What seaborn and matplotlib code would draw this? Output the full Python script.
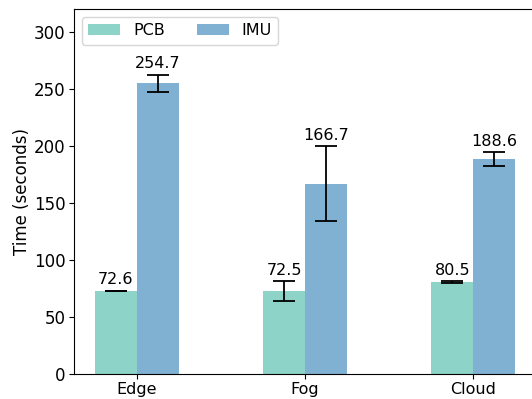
import numpy as np
import pandas as pd
import seaborn as sns
import matplotlib
matplotlib.use("Agg")
import matplotlib.pyplot as plt

# values
tiers = ["Edge", "Fog", "Cloud"]
pcb_mean = [72.6, 72.5, 80.5]
pcb_err = [0.4, 9.0, 1.0]
imu_mean = [254.7, 166.7, 188.6]
imu_err = [7.5, 33.0, 6.0]

df = pd.DataFrame({
    "tier": tiers * 2,
    "device": ["PCB"] * 3 + ["IMU"] * 3,
    "time": pcb_mean + imu_mean,
})

FS = 11.5

fig = plt.figure(figsize=(5.32, 3.99), dpi=100)
ax = fig.add_axes([0.139, 0.063, 0.869, 0.915])

palette = {"PCB": "#8dd3c7", "IMU": "#80b1d3"}
sns.barplot(data=df, x="tier", y="time", hue="device", palette=palette,
            width=0.5, errorbar=None, saturation=1, ax=ax)

# error bars and value labels on top of each bar
for i, (means, errs) in enumerate([(pcb_mean, pcb_err), (imu_mean, imu_err)]):
    xs = np.arange(len(tiers)) + (-0.125 if i == 0 else 0.125)
    ax.errorbar(xs, means, yerr=errs, fmt="none", ecolor="black",
                capsize=8, elinewidth=1.3, capthick=1.3)
    for x, m, e in zip(xs, means, errs):
        ax.annotate(f"{m:.1f}", (x, m + e), xytext=(0, 4.5),
                    textcoords="offset points", ha="center", va="baseline",
                    fontsize=FS)

ax.set_xlim(-0.375, 2.375)
ax.set_ylim(0, 320)
ax.set_yticks(range(0, 301, 50))
ax.set_xlabel("")
ax.set_ylabel("Time (seconds)", fontsize=12, labelpad=2)
ax.tick_params(axis="y", labelsize=12, pad=2.5)
ax.tick_params(axis="x", labelsize=11.5, pad=2)
ax.legend(loc="upper left", ncol=2, fontsize=FS)

fig.savefig("out.png", dpi=100)
